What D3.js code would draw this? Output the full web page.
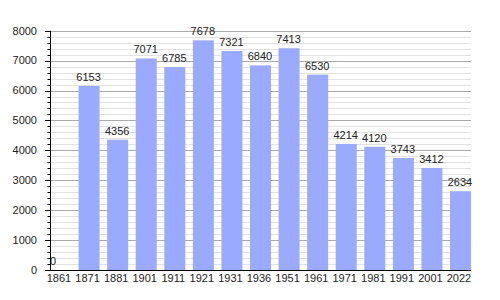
<!DOCTYPE html>
<html lang="en">
<head>
<meta charset="UTF-8">
<title>Population</title>
<script src="https://d3js.org/d3.v7.min.js"></script>
<style>
    body { margin: 0; background: #fff; }
    text { font-family: "Liberation Sans", Arial, sans-serif; fill: #222; }
</style>
</head>
<body>
<svg width="500" height="300"></svg>
<script>
    // data
    const years = ["1861", "1871", "1881", "1901", "1911", "1921", "1931", "1936",
                   "1951", "1961", "1971", "1981", "1991", "2001", "2022"];
    const population = [0, 6153, 4356, 7071, 6785, 7678, 7321, 6840,
                        7413, 6530, 4214, 4120, 3743, 3412, 2634];
    const yTicks = [0, 1000, 2000, 3000, 4000, 5000, 6000, 7000, 8000];

    const svg = d3.select("svg");
    const plotLeft = 50, plotRight = 471, plotTop = 30.7, plotBottom = 270;

    const x = d3.scaleBand()
        .domain(years)
        .range([plotLeft, plotRight])
        .paddingInner(0.265)
        .paddingOuter(0);

    const y = d3.scaleLinear()
        .domain([0, 8000])
        .range([plotBottom, plotTop]);

    // minor grid every 200
    const minor = d3.range(200, 8001, 200).filter(v => v % 1000 !== 0);
    svg.append("g").selectAll("line")
        .data(minor)
        .enter().append("line")
        .attr("x1", plotLeft).attr("x2", plotRight)
        .attr("y1", d => Math.round(y(d)) + 0.5)
        .attr("y2", d => Math.round(y(d)) + 0.5)
        .attr("stroke", "#e2e2e2");

    // major grid
    svg.append("g").selectAll("line")
        .data(yTicks.filter(d => d > 0))
        .enter().append("line")
        .attr("x1", plotLeft).attr("x2", plotRight)
        .attr("y1", d => Math.round(y(d)) + 0.5)
        .attr("y2", d => Math.round(y(d)) + 0.5)
        .attr("stroke", "#aaaaaa");

    // bars
    svg.append("g").selectAll("rect")
        .data(population)
        .enter().append("rect")
        .attr("x", (d, i) => x(years[i]))
        .attr("width", x.bandwidth())
        .attr("y", d => y(d))
        .attr("height", d => plotBottom - y(d))
        .attr("fill", "#99aaff");

    // value labels
    svg.append("g").selectAll("text")
        .data(population)
        .enter().append("text")
        .attr("x", (d, i) => d === 0 ? x(years[i]) + 3 : x(years[i]) + x.bandwidth() / 2 - 0.5)
        .attr("y", d => y(d) - 5)
        .attr("text-anchor", "middle")
        .attr("font-size", "11px")
        .text(d => d);

    // y axis
    const yAxis = svg.append("g");
    yAxis.append("line")
        .attr("x1", plotLeft + 0.5).attr("x2", plotLeft + 0.5)
        .attr("y1", plotTop).attr("y2", plotBottom)
        .attr("stroke", "#000");
    yAxis.selectAll("line.minor")
        .data(minor)
        .enter().append("line")
        .attr("class", "minor")
        .attr("x1", plotLeft - 2.5).attr("x2", plotLeft)
        .attr("y1", d => Math.round(y(d)) + 0.5)
        .attr("y2", d => Math.round(y(d)) + 0.5)
        .attr("stroke", "#000");
    yAxis.selectAll("line.major")
        .data(yTicks)
        .enter().append("line")
        .attr("class", "major")
        .attr("x1", plotLeft - 5).attr("x2", plotLeft)
        .attr("y1", d => Math.round(y(d)) + 0.5)
        .attr("y2", d => Math.round(y(d)) + 0.5)
        .attr("stroke", "#000");
    yAxis.selectAll("text")
        .data(yTicks)
        .enter().append("text")
        .attr("x", 37)
        .attr("y", d => y(d))
        .attr("dy", "0.35em")
        .attr("text-anchor", "end")
        .attr("font-size", "11px")
        .text(d => d);

    // x axis
    svg.append("line")
        .attr("x1", plotLeft - 5).attr("x2", plotRight)
        .attr("y1", plotBottom + 0.5).attr("y2", plotBottom + 0.5)
        .attr("stroke", "#000");
    svg.append("g").selectAll("text")
        .data(years)
        .enter().append("text")
        .attr("x", d => x(d) + x.bandwidth() / 2 - 1.5)
        .attr("y", 282)
        .attr("text-anchor", "middle")
        .attr("font-size", "11px")
        .text(d => d);
</script>
</body>
</html>
